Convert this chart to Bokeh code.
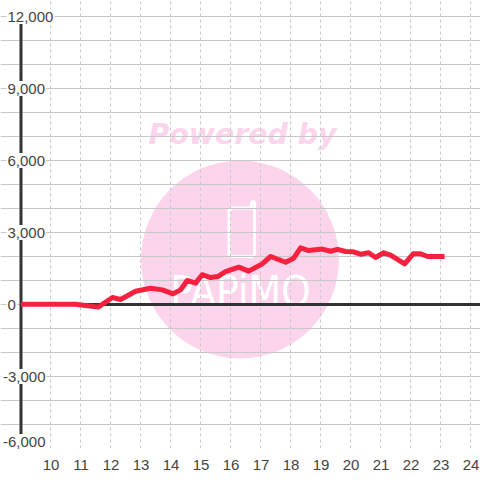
from bokeh.plotting import figure
from bokeh.models import ColumnDataSource, FixedTicker, Label, Range1d
from bokeh.core.properties import value
from bokeh.embed import file_html
from bokeh.resources import INLINE

hours = [9.0, 10.82, 11.15, 11.57, 12.05, 12.32, 12.82, 13.32, 13.71, 14.07, 14.32, 14.54, 14.82, 15.04,
         15.32, 15.56, 15.82, 16.26, 16.59, 17.04, 17.32, 17.82, 18.09, 18.32, 18.59, 19.04, 19.32, 19.55,
         19.82, 20.08, 20.32, 20.59, 20.82, 21.09, 21.32, 21.79, 22.07, 22.32, 22.56, 23.12]
values = [10, 10, -40, -110, 290, 210, 550, 680, 610, 445, 610, 1000, 890, 1240,
          1125, 1165, 1375, 1555, 1390, 1695, 2000, 1760, 1930, 2360, 2250, 2310, 2220, 2300,
          2210, 2195, 2095, 2155, 1960, 2155, 2055, 1695, 2110, 2110, 2000, 2000]
x_ticks = [10, 11, 12, 13, 14, 15, 16, 17, 18, 19, 20, 21, 22, 23, 24]
y_grid = [-6000, -5000, -4000, -3000, -2000, -1000, 0, 1000, 2000, 3000, 4000, 5000, 6000, 7000, 8000, 9000, 10000, 11000, 12000]
y_ticks = [12000, 9000, 6000, 3000, 0, -3000, -6000]
y_labels = ["12,000", "9,000", "6,000", "3,000", "0", "-3,000", "-6,000"]

PINK = "#fcd5ec"
GRID = "#c8c8c8"
DARK = "#333333"
TEXT = "#444444"

# The frame spans the picture's full width and starts at its top edge, so the
# y labels (which overlap the plot's left edge) are not clipped.
x_left, x_right = 8.317, 24.317
y_bottom, y_top = -6000, 12667

p = figure(width=480, height=480, frame_width=480, frame_height=448,
           output_backend="svg", toolbar_location=None,
           x_range=Range1d(x_left, x_right), y_range=Range1d(y_bottom, y_top),
           min_border_left=0, min_border_right=0, min_border_top=0, min_border_bottom=32)
p.styles = {"position": "absolute", "left": "0px", "top": "0px"}
p.outline_line_color = None
p.background_fill_color = "white"

p.yaxis.visible = False
p.xaxis.ticker = FixedTicker(ticks=x_ticks)
p.xaxis.axis_line_color = None
p.xaxis.major_tick_line_color = None
p.xaxis.minor_tick_line_color = None
p.xaxis.major_label_text_font = "Liberation Sans"
p.xaxis.major_label_text_font_size = "15px"
p.xaxis.major_label_text_color = TEXT
p.xaxis.major_label_standoff = 5

p.xgrid.ticker = FixedTicker(ticks=x_ticks)
p.xgrid.grid_line_color = GRID
p.xgrid.grid_line_dash = "3 3"
p.xgrid.grid_line_width = 1
p.xgrid.bounds = (-6000, 12000)
p.ygrid.ticker = FixedTicker(ticks=y_grid)
p.ygrid.grid_line_color = GRID
p.ygrid.grid_line_width = 1
p.ygrid.bounds = (9, x_right)

# Background watermark, placed in screen pixels of the 480x480 picture
def hx(px):
    return (px - 50.5) / 30 + 10
def vy(py):
    return (304 - py) / 24 * 1000

p.scatter([hx(239.5)], [vy(259)], size=198, marker="circle", fill_color=PINK, line_color=None, level="image")
p.add_layout(Label(x=hx(242), y=vy(134), text="Powered by", text_align="center", text_baseline="middle",
                   text_font="DejaVu Sans", text_font_style="bold italic", text_font_size="28.4px",
                   text_color=PINK, level="image"))
phone_x = [231, 228.5, 228.5, 231, 250.5, 251, 252.5, 254, 254, 252, 231]
phone_y = [256, 254, 210, 207.5, 207.5, 202, 200.5, 202, 254, 256, 256]
p.line([hx(v) for v in phone_x], [vy(v) for v in phone_y], line_color="white", line_width=3,
       line_join="round", level="image")
p.add_layout(Label(x=hx(240), y=vy(291), text="PAPiMO", text_align="center", text_baseline="middle",
                   text_font="DejaVu Sans Condensed", text_font_size="42px", text_color="white", level="image"))

# Axis bars
p.line([9, 9], [-6000, 12000], line_color=DARK, line_width=3)
p.line([9, x_right], [0, 0], line_color=DARK, line_width=3)

p.line(hours, values, line_color="#f5213f", line_width=5, line_join="round")

# White plates behind the y labels (they interrupt the axis bar and the grid)
char_px = {",": 4.2, "-": 5.0}
lefts, rights, tops, bottoms = [], [], [], []
for t, lab in zip(y_ticks, y_labels):
    start = 2 if t < 0 else 7
    width = sum(char_px.get(c, 8.34) for c in lab)
    cy = vy(441) if t == -6000 else t
    lefts.append(hx(start - 1))
    rights.append(hx(start + width + 1))
    tops.append(cy + 7.5 * 1000 / 24)
    bottoms.append(cy - 7.5 * 1000 / 24)
p.quad(left=lefts, right=rights, top=tops, bottom=bottoms, fill_color="white", line_color=None, level="annotation")

labels = ColumnDataSource(dict(
    x=[9] * len(y_ticks), y=y_ticks, text=y_labels,
    dx=[-18 if t < 0 else -13.5 for t in y_ticks],
    dy=[-7 if t == -6000 else 0 for t in y_ticks],
))
p.text(x="x", y="y", text="text", x_offset="dx", y_offset="dy", source=labels,
       text_align="left", text_baseline="middle", text_font=value("Liberation Sans"),
       text_font_size="15px", text_color=TEXT, level="overlay")

open("out.html", "w").write(file_html(p, INLINE))
